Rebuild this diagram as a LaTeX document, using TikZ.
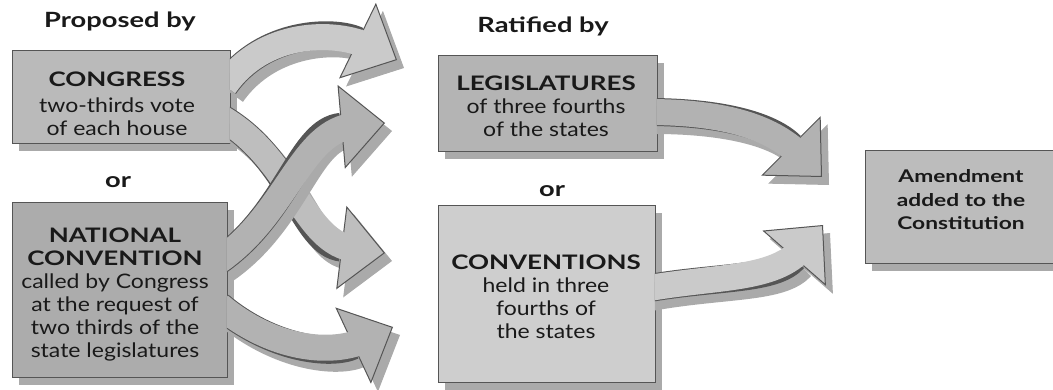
\documentclass[tikz,border=0pt]{standalone}
\usepackage{fontspec}
\setmainfont{Lato}
\newfontfamily\headfont[FakeStretch=1.3]{Lato}
\newfontfamily\bodyfont[FakeStretch=1.15]{Lato}
\usetikzlibrary{
  arrows.meta,
  shadows
}
\definecolor{inkcolor}{RGB}{25, 25, 25}
\definecolor{edgegray}{RGB}{85, 85, 85}
\definecolor{shadowgray}{RGB}{170, 170, 170}
\definecolor{congressfill}{RGB}{186, 186, 186}
\definecolor{nationalfill}{RGB}{172, 172, 172}
\definecolor{legisfill}{RGB}{180, 180, 180}
\definecolor{conventionfill}{RGB}{206, 206, 206}
\definecolor{amendfill}{RGB}{188, 188, 188}
\definecolor{arrowpale}{RGB}{202, 202, 202}
\definecolor{arrowmid}{RGB}{190, 190, 190}
\definecolor{arrowdark}{RGB}{178, 178, 178}
\tikzset{
panel/.style={
  draw=edgegray,
  line width=0.6pt,
  fill=#1,
  inner sep=0pt,
  general shadow={fill=shadowgray, shadow xshift=7pt, shadow yshift=-8pt}
},
titletext/.style={
  font=\headfont\bfseries\fontsize{21}{23}\selectfont,
  text=inkcolor
},
paneltext/.style={
  align=center,
  text=inkcolor,
  font=\bodyfont\fontsize{20}{23}\selectfont
},
arrowshadow/.style={
  line width=28pt,
  draw=shadowgray,
  transform canvas={shift={(7pt,-8pt)}},
  -{Triangle[length=44pt,width=84pt,line width'=1pt,fill=shadowgray]}
},
arrowedge/.style={
  line width=28pt,
  draw=edgegray,
  -{Triangle[length=44pt,width=84pt,line width'=1pt,fill=#1]}
},
arrowbody/.style={
  line width=26pt,
  draw=#1,
  shorten >=30pt
}
}
% block arrow: shadow, outline, then body on top
\newcommand\flowarrow[3]{%
  \draw[arrowshadow] #2 #3;
  \draw[arrowedge=#1] #2 #3;
  \draw[arrowbody=#1] #2 #3;
}

\begin{document}
\begin{tikzpicture}[x=1pt, y=-1pt]
  \useasboundingbox (0,0) rectangle (1053,390);
  % Column headings
  \node[titletext, anchor=base] (proposed) at (120,28) {Proposed by};
  \node[titletext, anchor=base] (ratified) at (543,33) {Ratified by};
  \node[titletext, anchor=base] (orleft) at (118,188) {or};
  \node[titletext, anchor=base] (orright) at (552,197) {or};
  % Panels
  \node[panel=congressfill, minimum width=218pt, minimum height=93pt] (congress) at (121,96.5) {};
  \node[panel=nationalfill, minimum width=215pt, minimum height=175pt] (national) at (119.5,289.5) {};
  \node[panel=legisfill, minimum width=219pt, minimum height=96pt] (legis) at (547.5,103) {};
  \node[panel=conventionfill, minimum width=217pt, minimum height=177pt] (conventions) at (546.5,293.5) {};
  \node[panel=amendfill, minimum width=192pt, minimum height=113pt] (amend) at (961,206.5) {};
  % Panel texts
  \node[paneltext] (congresstext) at (117,104)
    {{\headfont\bfseries CONGRESS}\\[3pt]two-thirds vote\\of each house};
  \node[paneltext] (nationaltext) at (115,294.5)
    {{\headfont\bfseries NATIONAL}\\{\headfont\bfseries CONVENTION}\\called by Congress\\at the request of\\two thirds of the\\state legislatures};
  \node[paneltext] (legistext) at (546,106.5)
    {{\headfont\bfseries LEGISLATURES}\\of three fourths\\of the states};
  \node[paneltext] (conventionstext) at (546,296.5)
    {{\headfont\bfseries CONVENTIONS}\\held in three\\fourths of\\the states};
  \node[paneltext, font=\headfont\bfseries\fontsize{17.5}{23.5}\selectfont] (amendtext) at (961,200)
    {Amendment\\added to the\\Constitution};
  % Arrow tips
  \coordinate (tipA) at (397,60);
  \coordinate (tipB) at (385,253);
  \coordinate (tipC) at (385,123);
  \coordinate (tipD) at (393,327);
  \coordinate (tipE) at (822,177);
  \coordinate (tipF) at (823,225);
  \coordinate (congressrim) at ([xshift=-0.5pt]congress.east);
  \coordinate (nationalrim) at ([xshift=-0.5pt]national.east);
  \coordinate (legisrim) at ([xshift=-0.5pt]legis.east);
  \coordinate (conventionsrim) at ([xshift=-0.5pt]conventions.east);
  % Congress to both ratifying routes
  \begin{scope}
    \clip (congressrim |- 0,-30) rectangle (1060,420);
    \flowarrow{arrowpale}{([xshift=-5.7pt,yshift=10.8pt]congress.east)}{to[out=55,in=154] (tipA)}
    \flowarrow{arrowmid}{([xshift=-8.7pt,yshift=-21.5pt]congress.east)}{to[out=-30,in=173] (tipB)}
  \end{scope}
  % National convention to both ratifying routes
  \begin{scope}
    \clip (nationalrim |- 0,-30) rectangle (1060,420);
    \flowarrow{arrowdark}{([xshift=-7.7pt,yshift=-16.1pt]national.east)}{to[out=-40,in=205] (tipD)}
    \flowarrow{arrowdark}{([xshift=-8.2pt,yshift=28.8pt]national.east)}{to[out=35,in=185] (tipC)}
  \end{scope}
  % Ratification to the amendment
  \begin{scope}
    \clip (legisrim |- 0,-30) rectangle (1060,420);
    \flowarrow{arrowdark}{([xshift=-10pt,yshift=-9pt]legis.east)}{to[out=0,in=135] (tipE)}
  \end{scope}
  \begin{scope}
    \clip (conventionsrim |- 0,-30) rectangle (1060,420);
    \flowarrow{arrowpale}{([xshift=-9.8pt,yshift=4.8pt]conventions.east)}{to[out=10,in=229] (tipF)}
  \end{scope}
\end{tikzpicture}
\end{document}
